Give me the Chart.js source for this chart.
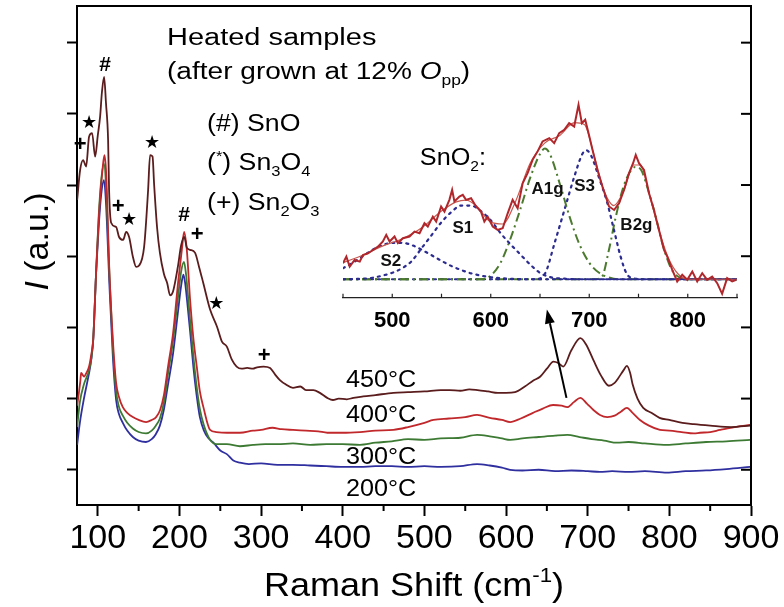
<!DOCTYPE html>
<html>
<head>
<meta charset="utf-8">
<script src="https://cdn.jsdelivr.net/npm/chart.js@4.4.1/dist/chart.umd.min.js"></script>
<style>
  html, body { margin: 0; padding: 0; background: #fff; }
  #wrap { position: relative; width: 784px; height: 607px; }
  #main { position: absolute; left: 0; top: 0; }
  #inset { position: absolute; left: 330px; top: 80px; }
</style>
</head>
<body>
<div id="wrap">
  <canvas id="main" width="784" height="607"></canvas>
  <canvas id="inset" width="430" height="250"></canvas>
</div>
<script>
const FONT = '"Liberation Sans", Arial, sans-serif';

// main spectra (Raman shift, intensity a.u.)
const x450 = [74.7, 78.3, 82, 85.7, 89.3, 93, 96.7, 100, 102.8, 105, 107.7, 110, 112.6, 113.8, 116.3, 122.4, 126, 131, 134.7, 138.3, 143, 147, 150.6, 156.7, 161.6, 164, 167, 169, 172.6, 176, 181, 185, 188.5, 192, 198, 202, 205.9, 209, 213, 219, 224, 229, 237.5, 246, 252, 258, 264, 270, 276, 283, 290, 295, 303, 311, 317, 323, 330, 339, 348, 355, 364, 372, 381, 388, 395, 405, 413, 425, 440, 462, 480, 500, 520, 531, 544, 555, 565, 578, 590, 600, 611, 623, 633, 642, 650, 658, 664, 670, 680, 691, 698, 707, 716, 726, 733, 737, 744, 748, 752, 755, 761, 768, 778, 788, 800, 816, 830, 850, 876, 899];
const y450 = [4.79, 5.21, 5.35, 5.26, 5.68, 5.73, 5.40, 5.70, 5.96, 6.30, 6.52, 6.15, 5.63, 4.93, 4.47, 4.41, 4.27, 4.23, 4.34, 4.27, 3.99, 3.85, 3.87, 4.13, 4.93, 5.42, 5.40, 5.00, 4.40, 4.05, 3.75, 3.62, 3.45, 3.50, 3.85, 4.15, 4.27, 4.12, 4.09, 4.05, 3.85, 3.63, 3.25, 3.01, 2.80, 2.73, 2.55, 2.45, 2.42, 2.43, 2.42, 2.44, 2.45, 2.43, 2.34, 2.26, 2.20, 2.15, 2.17, 2.12, 2.12, 2.08, 2.01, 1.98, 2.00, 1.99, 2.01, 2.03, 2.05, 2.08, 2.09, 2.10, 2.12, 2.12, 2.11, 2.13, 2.12, 2.10, 2.08, 2.08, 2.09, 2.17, 2.25, 2.31, 2.42, 2.52, 2.50, 2.45, 2.68, 2.85, 2.76, 2.54, 2.33, 2.18, 2.22, 2.28, 2.40, 2.46, 2.36, 2.20, 2.00, 1.87, 1.80, 1.73, 1.70, 1.66, 1.64, 1.62, 1.60, 1.62];

const x400 = [74.7, 78.7, 79.5, 83.2, 86, 89.3, 92, 94.4, 97.9, 102, 106.1, 108.1, 110.2, 114.2, 118.4, 122.4, 126, 130.6, 136, 142.9, 150, 159.1, 166, 171.4, 176.3, 181, 186, 192.2, 198.3, 202.9, 205.7, 209, 213, 217, 221.2, 225, 229.3, 237.5, 245, 258, 274, 290, 300, 314, 325, 339, 355, 370, 381, 400, 421, 440, 462, 480, 500, 511, 530, 550, 564.5, 580, 595, 605, 618, 633, 645, 657.6, 668, 675, 683, 691, 699, 707, 715, 724, 733, 741, 748, 755, 764, 775, 788.5, 800, 815, 830, 837.6, 850, 862, 880, 899];
const y400 = [1.90, 2.26, 2.36, 2.31, 2.36, 2.45, 2.62, 2.83, 3.77, 4.69, 5.26, 5.42, 5.17, 3.77, 2.83, 2.22, 2.02, 1.88, 1.80, 1.74, 1.70, 1.67, 1.70, 1.74, 1.84, 2.05, 2.45, 2.92, 3.63, 4.09, 4.34, 4.09, 3.39, 2.85, 2.45, 2.10, 1.88, 1.56, 1.53, 1.52, 1.52, 1.55, 1.56, 1.59, 1.57, 1.56, 1.55, 1.54, 1.52, 1.52, 1.53, 1.55, 1.56, 1.60, 1.66, 1.70, 1.72, 1.74, 1.77, 1.73, 1.70, 1.67, 1.72, 1.80, 1.86, 1.91, 1.90, 1.88, 1.95, 2.01, 1.93, 1.84, 1.77, 1.74, 1.76, 1.82, 1.87, 1.80, 1.70, 1.62, 1.56, 1.55, 1.53, 1.51, 1.52, 1.53, 1.56, 1.60, 1.63];

const x300 = [74.7, 78, 83, 89.3, 92, 94.4, 97.9, 101, 104, 107.5, 110, 114.2, 118.4, 122.4, 126, 130.6, 136, 142.9, 150, 159, 166, 171, 176, 181, 186, 192, 198, 202, 205.5, 208, 210, 213, 217, 221, 225, 230, 237.5, 245, 258, 274, 290, 305, 320, 339, 360, 380, 400, 421, 440, 460, 480, 500, 520, 544, 564.5, 580, 595, 605, 620, 640, 660, 675, 690, 705, 720, 736, 750, 770, 797, 820, 845, 870, 899];
const y300 = [1.60, 1.95, 2.20, 2.40, 2.56, 2.85, 3.77, 4.55, 5.05, 5.30, 5.00, 3.75, 2.72, 2.10, 1.88, 1.76, 1.66, 1.58, 1.53, 1.51, 1.55, 1.62, 1.72, 1.95, 2.35, 2.80, 3.40, 3.78, 3.92, 3.75, 3.50, 3.10, 2.60, 2.17, 1.85, 1.62, 1.42, 1.36, 1.36, 1.33, 1.35, 1.36, 1.36, 1.37, 1.35, 1.36, 1.36, 1.35, 1.38, 1.40, 1.43, 1.42, 1.44, 1.45, 1.49, 1.47, 1.44, 1.42, 1.44, 1.46, 1.48, 1.49, 1.46, 1.43, 1.41, 1.38, 1.39, 1.37, 1.35, 1.37, 1.39, 1.40, 1.42];

const x200 = [74.7, 78, 83, 89.3, 92, 94.4, 97.9, 101, 104, 107.5, 110, 114.2, 118.4, 122.4, 126, 130.6, 136, 142.9, 150, 159, 166, 171, 176, 181, 186, 192, 198, 202, 204.8, 207, 210, 213, 217, 221, 225, 230, 235, 241.6, 250, 258, 266, 274, 285, 300, 320, 339, 360, 380, 400, 421, 440, 460, 480, 500, 520, 544, 564.5, 580, 595, 605, 620, 640, 660, 680, 700, 715, 730, 750, 770, 797, 820, 845, 870, 899];
const y200 = [1.35, 1.66, 2.00, 2.36, 2.55, 2.83, 3.77, 4.40, 4.85, 5.07, 4.75, 3.60, 2.59, 1.98, 1.78, 1.66, 1.55, 1.46, 1.41, 1.39, 1.43, 1.50, 1.62, 1.85, 2.20, 2.62, 3.20, 3.58, 3.74, 3.62, 3.30, 2.95, 2.45, 2.05, 1.74, 1.55, 1.45, 1.38, 1.27, 1.22, 1.13, 1.10, 1.08, 1.09, 1.07, 1.07, 1.06, 1.05, 1.04, 1.04, 1.05, 1.05, 1.04, 1.05, 1.04, 1.05, 1.08, 1.06, 1.03, 1.00, 0.99, 1.00, 0.98, 0.99, 0.98, 0.97, 0.98, 0.97, 0.98, 0.96, 0.98, 0.99, 1.01, 1.04];

const tempLabels = ['450°C', '400°C', '300°C', '200°C'];
const tempX = 447;
const tempY = [2.25, 1.76, 1.18, 0.72];

// phase markers on the peaks
const markSym = ['#', '*', '+', '*', '+', '*', '#', '+', '*', '+'];
const markX = [109, 89.3, 78.4, 166.5, 124.9, 138.3, 205.8, 221.7, 245, 303.8];
const markY = [6.69, 5.87, 5.56, 5.59, 4.69, 4.51, 4.58, 4.30, 3.32, 2.60];

const arrowFrom = [674, 2.01];
const arrowTo = [650, 3.25];

const xMinorTicks = [150, 250, 350, 450, 550, 650, 750, 850];

// inset: SnO2 region of the 450°C spectrum with fitted bands
const insX = [450, 453.4, 456.8, 461.8, 467, 470.3, 475.3, 480.4, 485.5, 490.5, 493.9, 497.3, 502.3, 505.7, 510.8, 517.5, 522.6, 527.7, 532.7, 536.1, 541.2, 544.6, 549.6, 553, 558, 560.8, 563.1, 568.2, 571.6, 574.9, 580, 585.1, 590.1, 593.5, 596.9, 602, 607, 612.1, 617.2, 622.2, 627.3, 632.4, 637.4, 642.5, 647.6, 652.6, 659.4, 664.4, 669.5, 674.6, 679.6, 684.7, 689.1, 692.5, 695.9, 699.3, 703.3, 708.3, 713.4, 720.1, 725.2, 730.3, 735.3, 740.4, 744.5, 747.2, 750.5, 755.6, 760.7, 765.7, 770.8, 775.9, 779.2, 784.3, 789.3, 794.4, 799.5, 804.6, 809.6, 814.7, 819.7, 824.8, 829.9, 834.9, 840, 845.1, 849.2];
const insY = [0.087, 0.123, 0.069, 0.105, 0.096, 0.132, 0.141, 0.159, 0.177, 0.205, 0.241, 0.205, 0.232, 0.196, 0.223, 0.232, 0.259, 0.25, 0.304, 0.286, 0.34, 0.313, 0.395, 0.367, 0.431, 0.485, 0.422, 0.449, 0.458, 0.431, 0.44, 0.395, 0.367, 0.313, 0.34, 0.286, 0.268, 0.277, 0.358, 0.431, 0.385, 0.521, 0.576, 0.648, 0.694, 0.748, 0.766, 0.739, 0.793, 0.811, 0.847, 0.829, 0.947, 0.847, 0.866, 0.793, 0.703, 0.594, 0.503, 0.395, 0.376, 0.413, 0.485, 0.576, 0.63, 0.675, 0.63, 0.594, 0.467, 0.376, 0.268, 0.159, 0.123, 0.051, -0.012, 0.024, -0.003, 0.042, -0.012, 0.033, -0.003, 0.015, -0.021, -0.079, 0.006, -0.012, -0.003];

const fitX = [450, 470, 490, 510, 530, 550, 565, 575, 585, 600, 612, 625, 640, 655, 670, 685, 695, 705, 715, 725, 735, 745, 752, 760, 770, 780, 790, 800, 850];
const fitY = [0.09, 0.13, 0.18, 0.22, 0.28, 0.37, 0.42, 0.43, 0.40, 0.31, 0.30, 0.42, 0.63, 0.74, 0.78, 0.85, 0.84, 0.67, 0.48, 0.40, 0.48, 0.62, 0.62, 0.48, 0.28, 0.12, 0.03, 0.0, 0.0];

const s2X = [450, 460, 470, 480, 490, 500, 510, 520, 530, 540, 550, 560, 570, 580, 590, 600, 620, 640, 850];
const s2Y = [0.06, 0.09, 0.125, 0.16, 0.185, 0.198, 0.198, 0.185, 0.16, 0.13, 0.10, 0.072, 0.05, 0.032, 0.02, 0.011, 0.003, 0, 0];

const s1X = [450, 470, 480, 490, 500, 510, 520, 530, 540, 550, 560, 570, 580, 590, 600, 610, 620, 630, 640, 650, 660, 675, 690, 850];
const s1Y = [0, 0.003, 0.008, 0.02, 0.035, 0.06, 0.10, 0.17, 0.24, 0.31, 0.365, 0.40, 0.40, 0.37, 0.32, 0.25, 0.19, 0.135, 0.08, 0.035, 0.012, 0.003, 0, 0];

const a1gX = [450, 590, 600, 610, 620, 630, 640, 650, 655, 660, 670, 680, 690, 700, 710, 720, 730, 850];
const a1gY = [0, 0, 0.02, 0.09, 0.22, 0.38, 0.55, 0.68, 0.71, 0.68, 0.52, 0.34, 0.19, 0.09, 0.035, 0.01, 0, 0];

const s3X = [450, 645, 655, 665, 675, 685, 693, 697, 702, 710, 718, 725, 732, 738, 745, 760, 850];
const s3Y = [0, 0, 0.03, 0.20, 0.38, 0.56, 0.68, 0.70, 0.67, 0.55, 0.42, 0.27, 0.12, 0.03, 0.005, 0, 0];

const b2gX = [450, 705, 713, 720, 727, 734, 741, 747, 753, 760, 767, 775, 783, 790, 800, 850];
const b2gY = [0, 0, 0.015, 0.16, 0.34, 0.49, 0.58, 0.61, 0.59, 0.48, 0.35, 0.18, 0.06, 0.015, 0, 0];

const bandNames = ['S2', 'S1', 'A1g', 'S3', 'B2g'];
const bandLabelX = [498.6, 571.6, 657.7, 695.2, 747.9];
const bandLabelY = [0.10, 0.279, 0.49, 0.507, 0.295];

const insetMinorTicks = [450, 500, 550, 600, 650, 700, 750, 800, 850];

function pts(xs, ys) {
  return xs.map((v, i) => ({ x: v, y: ys[i] }));
}

// draws text made of parts; a part may be {t, sub, sup, it}
function drawRich(ctx, parts, x, y, size, opts = {}) {
  const sx = opts.sx || 1;
  const weight = opts.bold ? 'bold ' : '';
  const segs = parts.map(p => typeof p === 'string' ? { t: p } : p);
  const fontFor = s => {
    const sz = (s.sub || s.sup) ? size * 0.62 : size;
    return (s.it ? 'italic ' : '') + weight + sz + 'px ' + (opts.family || FONT);
  };
  ctx.save();
  ctx.translate(x, y);
  if (opts.rotate) ctx.rotate(opts.rotate);
  ctx.scale(sx, 1);
  ctx.fillStyle = opts.color || '#000';
  ctx.textAlign = 'left';
  ctx.textBaseline = opts.baseline || 'alphabetic';
  let total = 0;
  segs.forEach(s => { ctx.font = fontFor(s); total += ctx.measureText(s.t).width; });
  let cx = opts.align === 'center' ? -total / 2 : 0;
  segs.forEach(s => {
    ctx.font = fontFor(s);
    const dy = s.sub ? size * 0.24 : s.sup ? -size * 0.40 : 0;
    ctx.fillText(s.t, cx, dy);
    cx += ctx.measureText(s.t).width;
  });
  ctx.restore();
}

const mainDecor = {
  id: 'mainDecor',
  afterDraw(chart) {
    const { ctx, chartArea: a, scales: { x, y } } = chart;
    ctx.save();
    ctx.strokeStyle = '#000';
    ctx.lineWidth = 2;
    ctx.beginPath();
    ctx.moveTo(a.left, a.top);
    ctx.lineTo(a.right, a.top);
    ctx.lineTo(a.right, a.bottom);
    ctx.stroke();

    // inward ticks on the right frame
    y.ticks.forEach(t => {
      const py = y.getPixelForValue(t.value);
      ctx.beginPath();
      ctx.moveTo(a.right - 10, py);
      ctx.lineTo(a.right, py);
      ctx.stroke();
    });
    // minor ticks along the bottom
    xMinorTicks.forEach(v => {
      const px = x.getPixelForValue(v);
      ctx.beginPath();
      ctx.moveTo(px, a.bottom);
      ctx.lineTo(px, a.bottom + 6);
      ctx.stroke();
    });

    // arrow pointing to the inset
    const x0 = x.getPixelForValue(arrowFrom[0]), y0 = y.getPixelForValue(arrowFrom[1]);
    const x1 = x.getPixelForValue(arrowTo[0]), y1 = y.getPixelForValue(arrowTo[1]);
    const ang = Math.atan2(y1 - y0, x1 - x0);
    const hl = 14, hw = 5;
    const bx = x1 - hl * Math.cos(ang), by = y1 - hl * Math.sin(ang);
    ctx.lineWidth = 2;
    ctx.beginPath();
    ctx.moveTo(x0, y0);
    ctx.lineTo(bx, by);
    ctx.stroke();
    ctx.fillStyle = '#000';
    ctx.beginPath();
    ctx.moveTo(x1, y1);
    ctx.lineTo(bx + hw * Math.sin(ang), by - hw * Math.cos(ang));
    ctx.lineTo(bx - hw * Math.sin(ang), by + hw * Math.cos(ang));
    ctx.closePath();
    ctx.fill();

    // peak markers
    markSym.forEach((s, i) => {
      const px = x.getPixelForValue(markX[i]), py = y.getPixelForValue(markY[i]);
      if (s === '*') {
        drawRich(ctx, ['★'], px, py, 18, { align: 'center', baseline: 'middle', family: '"DejaVu Sans", sans-serif' });
      } else {
        drawRich(ctx, [s], px, py, s === '#' ? 21 : 22, { align: 'center', baseline: 'middle', bold: true });
      }
    });

    // temperature labels
    tempLabels.forEach((t, i) => {
      drawRich(ctx, [t], x.getPixelForValue(tempX), y.getPixelForValue(tempY[i]), 24, { align: 'center', baseline: 'middle', sx: 1.05 });
    });

    // header text
    drawRich(ctx, ['Heated samples'], 167, 45, 23, { sx: 1.26 });
    drawRich(ctx, ['(after grown at 12% ', { t: 'O', it: true }, { t: 'pp', sub: true }, ')'], 167, 79, 23, { sx: 1.22 });
    drawRich(ctx, ['(#) SnO'], 207, 131, 23, { sx: 1.16 });
    drawRich(ctx, ['(', { t: '*', sup: true }, ') Sn', { t: '3', sub: true }, 'O', { t: '4', sub: true }], 207, 170, 23, { sx: 1.16 });
    drawRich(ctx, ['(+) Sn', { t: '2', sub: true }, 'O', { t: '3', sub: true }], 207, 210, 23, { sx: 1.16 });

    // axis titles
    drawRich(ctx, ['Raman Shift (cm', { t: '-1', sup: true }, ')'], (a.left + a.right) / 2, 596, 34, { align: 'center', sx: 1.06 });
    drawRich(ctx, [{ t: 'I', it: true }, ' (a.u.)'], 48, (a.top + a.bottom) / 2 - 14, 34, { align: 'center', rotate: -Math.PI / 2 });
    ctx.restore();
  }
};

const insetDecor = {
  id: 'insetDecor',
  afterDraw(chart) {
    const { ctx, chartArea: a, scales: { x, y } } = chart;
    ctx.save();
    ctx.strokeStyle = '#222';
    ctx.lineWidth = 1.2;
    insetMinorTicks.forEach(v => {
      const px = x.getPixelForValue(v);
      ctx.beginPath();
      ctx.moveTo(px, a.bottom);
      ctx.lineTo(px, a.bottom - 4);
      ctx.stroke();
    });
    bandNames.forEach((n, i) => {
      drawRich(ctx, [n], x.getPixelForValue(bandLabelX[i]), y.getPixelForValue(bandLabelY[i]), 17, { align: 'center', baseline: 'middle', bold: true, color: '#111' });
    });
    drawRich(ctx, ['SnO', { t: '2', sub: true }, ':'], x.getPixelForValue(528), y.getPixelForValue(0.621), 24, { sx: 1.05 });
    ctx.restore();
  }
};

const lineDefaults = { pointRadius: 0, fill: false, cubicInterpolationMode: 'monotone' };

new Chart(document.getElementById('main'), {
  type: 'line',
  data: {
    datasets: [
      { ...lineDefaults, label: '450', data: pts(x450, y450), borderColor: '#5a1c1c', borderWidth: 1.8 },
      { ...lineDefaults, label: '400', data: pts(x400, y400), borderColor: '#c0282c', borderWidth: 1.8 },
      { ...lineDefaults, label: '300', data: pts(x300, y300), borderColor: '#3d7a33', borderWidth: 1.8 },
      { ...lineDefaults, label: '200', data: pts(x200, y200), borderColor: '#2f2fa0', borderWidth: 1.8 }
    ]
  },
  options: {
    responsive: false,
    animation: false,
    devicePixelRatio: 1,
    events: [],
    layout: { padding: { top: 6, right: 33, left: 0, bottom: 0 } },
    plugins: { legend: { display: false }, tooltip: { enabled: false } },
    scales: {
      x: {
        type: 'linear',
        min: 74.5,
        max: 900,
        ticks: {
          stepSize: 100,
          includeBounds: false,
          autoSkip: false,
          maxRotation: 0,
          padding: 2,
          color: '#000',
          font: { family: FONT, size: 34 }
        },
        grid: { drawOnChartArea: false, tickLength: 11, tickWidth: 2, tickColor: '#000' },
        border: { display: true, color: '#000', width: 2 },
        afterFit: s => { s.height = 102; s.paddingLeft = 0; s.paddingRight = 0; }
      },
      y: {
        min: 0.505,
        max: 7.515,
        ticks: { stepSize: 1, includeBounds: false, display: false },
        grid: { drawOnChartArea: false, tickLength: 10, tickWidth: 2, tickColor: '#000' },
        border: { display: true, color: '#000', width: 2 },
        afterFit: s => { s.width = 77; }
      }
    }
  },
  plugins: [mainDecor]
});

const dotted = { pointRadius: 0, fill: false, borderColor: '#2b2b90', borderWidth: 2.2, borderDash: [2, 5], borderCapStyle: 'round', cubicInterpolationMode: 'monotone' };
const dashDot = { pointRadius: 0, fill: false, borderColor: '#4c7a2e', borderWidth: 2, borderDash: [9, 4, 2, 4], cubicInterpolationMode: 'monotone' };

new Chart(document.getElementById('inset'), {
  type: 'line',
  data: {
    datasets: [
      { label: 'spectrum', data: pts(insX, insY), pointRadius: 0, fill: false, borderColor: '#b0262a', borderWidth: 2, tension: 0 },
      { label: 'fit', data: pts(fitX, fitY), pointRadius: 0, fill: false, borderColor: '#c65a50', borderWidth: 1.2, cubicInterpolationMode: 'monotone' },
      { ...dotted, label: 'S2', data: pts(s2X, s2Y) },
      { ...dotted, label: 'S1', data: pts(s1X, s1Y) },
      { ...dashDot, label: 'A1g', data: pts(a1gX, a1gY) },
      { ...dotted, label: 'S3', data: pts(s3X, s3Y) },
      { ...dashDot, label: 'B2g', data: pts(b2gX, b2gY) }
    ]
  },
  options: {
    responsive: false,
    animation: false,
    devicePixelRatio: 1,
    events: [],
    layout: { padding: { top: 15, left: 13, right: 23, bottom: 0 } },
    plugins: { legend: { display: false }, tooltip: { enabled: false } },
    scales: {
      x: {
        type: 'linear',
        min: 450,
        max: 850,
        ticks: {
          stepSize: 50,
          autoSkip: false,
          maxRotation: 0,
          padding: 10,
          color: '#000',
          font: { family: FONT, size: 22, weight: 'bold' },
          callback: v => (v % 100 === 0 ? v : '')
        },
        grid: { display: false, drawTicks: false },
        border: { display: true, color: '#222', width: 1.2 },
        afterFit: s => { s.height = 32.3; s.paddingLeft = 0; s.paddingRight = 0; }
      },
      y: { min: -0.1, max: 1.0, display: false }
    }
  },
  plugins: [insetDecor]
});
</script>
</body>
</html>
